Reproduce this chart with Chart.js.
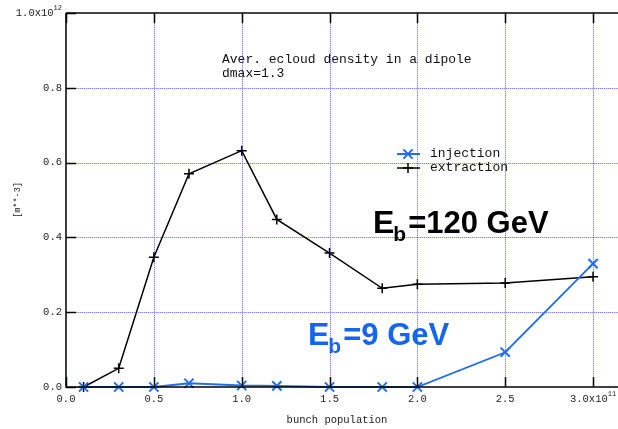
<!DOCTYPE html>
<html>
<head>
<meta charset="utf-8">
<script src="https://cdn.jsdelivr.net/npm/chart.js@4/dist/chart.umd.min.js"></script>
<style>
  html, body { margin: 0; padding: 0; background: #fff; }
  #wrap { width: 618px; height: 429px; }
</style>
</head>
<body>
<div id="wrap"><canvas id="c" width="618" height="429"></canvas></div>
<script>
// Bunch population (units of 1e11) and average e-cloud density (units of 1e12 m^-3)
const bunchPopulation = [0.1, 0.3, 0.5, 0.7, 1.0, 1.2, 1.5, 1.8, 2.0, 2.5, 3.0];
const injection       = [0.0, 0.0, 0.0, 0.010, 0.004, 0.003, 0.0, 0.0, 0.0, 0.093, 0.330];
const extraction      = [0.0, 0.050, 0.347, 0.570, 0.632, 0.448, 0.358, 0.264, 0.275, 0.278, 0.295];

const xTickValues = [0.0, 0.5, 1.0, 1.5, 2.0, 2.5, 3.0];
const xTickLabels = ['0.0', '0.5', '1.0', '1.5', '2.0', '2.5', '3.0x10'];
const xExponent = '11';
const yTickValues = [0.0, 0.2, 0.4, 0.6, 0.8, 1.0];
const yTickLabels = ['0.0', '0.2', '0.4', '0.6', '0.8', '1.0x10'];
const yExponent = '12';

const seriesNames = ['injection', 'extraction'];
const titleLines = ['Aver. ecloud density in a dipole', 'dmax=1.3'];
const xTitle = 'bunch population';
const yTitle = '[m**-3]';

const BLUE = '#1f6ef0';
const BLUE_TEXT = '#1466ec';
const GRID = '#7c80ff';
const GRID_PALE = '#d6d8ff';
const MONO = '"Liberation Mono", "DejaVu Sans Mono", monospace';
const SANS = '"Liberation Sans", Arial, sans-serif';

const toPoints = ys => bunchPopulation.map((x, i) => ({ x: x, y: ys[i] }));

// Dotted blue grid under the data
const dottedGrid = {
  id: 'dottedGrid',
  beforeDatasetsDraw(chart) {
    const ctx = chart.ctx;
    const area = chart.chartArea;
    const xs = chart.scales.x, ys = chart.scales.y;
    const path = () => {
      ctx.beginPath();
      xTickValues.forEach(v => {
        if (v === 0) return;
        const px = Math.round(xs.getPixelForValue(v)) + 0.5;
        ctx.moveTo(px, area.top); ctx.lineTo(px, area.bottom);
      });
      yTickValues.forEach(v => {
        if (v === 0) return;
        const py = Math.round(ys.getPixelForValue(v)) + 0.5;
        ctx.moveTo(area.left, py); ctx.lineTo(area.right, py);
      });
    };
    ctx.save();
    ctx.lineWidth = 1;
    ctx.strokeStyle = GRID_PALE;
    path();
    ctx.stroke();
    ctx.strokeStyle = GRID;
    ctx.setLineDash([1, 1]);
    path();
    ctx.stroke();
    ctx.restore();
  }
};

// Draws inward tick marks, tick labels with exponents, frame lines,
// annotation texts and the legend.
const decorations = {
  id: 'decorations',
  afterDraw(chart) {
    const ctx = chart.ctx;
    const area = chart.chartArea;
    const xs = chart.scales.x, ys = chart.scales.y;
    ctx.save();

    // frame: top, left, bottom
    ctx.strokeStyle = '#444';
    ctx.lineWidth = 2;
    ctx.beginPath();
    ctx.moveTo(area.left, area.top);
    ctx.lineTo(area.right, area.top);
    ctx.stroke();
    ctx.strokeStyle = '#000';
    ctx.lineWidth = 1.5;
    ctx.beginPath();
    ctx.moveTo(area.left, area.top);
    ctx.lineTo(area.left, area.bottom);
    ctx.lineTo(area.right, area.bottom);
    ctx.stroke();

    // inward tick marks
    ctx.beginPath();
    xTickValues.forEach(v => {
      const px = Math.round(xs.getPixelForValue(v)) + 0.5;
      ctx.moveTo(px, area.bottom); ctx.lineTo(px, area.bottom - 10);
      ctx.moveTo(px, area.top); ctx.lineTo(px, area.top + 10);
    });
    yTickValues.forEach(v => {
      const py = Math.round(ys.getPixelForValue(v)) + 0.5;
      ctx.moveTo(area.left, py); ctx.lineTo(area.left + 10, py);
    });
    ctx.stroke();

    // tick labels
    ctx.fillStyle = '#222';
    const tickFont = '10.5px ' + MONO;
    const supFont = '7px ' + MONO;
    ctx.textBaseline = 'middle';
    yTickValues.forEach((v, i) => {
      const py = ys.getPixelForValue(v);
      const last = i === yTickValues.length - 1;
      ctx.font = supFont;
      const supW = last ? ctx.measureText(yExponent).width : 0;
      const right = area.left - 4 - supW;
      ctx.font = tickFont;
      ctx.textAlign = 'right';
      ctx.fillText(yTickLabels[i], right, py);
      if (last) {
        ctx.font = supFont;
        ctx.textAlign = 'left';
        ctx.fillText(yExponent, right, py - 5);
      }
    });
    xTickValues.forEach((v, i) => {
      const px = xs.getPixelForValue(v);
      const last = i === xTickValues.length - 1;
      ctx.font = tickFont;
      const mainW = ctx.measureText(xTickLabels[i]).width;
      ctx.font = supFont;
      const supW = last ? ctx.measureText(xExponent).width : 0;
      const start = px - (mainW + supW) / 2;
      ctx.font = tickFont;
      ctx.textAlign = 'left';
      ctx.fillText(xTickLabels[i], start, area.bottom + 12);
      if (last) {
        ctx.font = supFont;
        ctx.fillText(xExponent, start + mainW, area.bottom + 7);
      }
    });

    // axis titles
    ctx.font = '10.5px ' + MONO;
    ctx.textAlign = 'center';
    ctx.fillText(xTitle, 337, 420);
    ctx.save();
    ctx.translate(18, (area.top + area.bottom) / 2);
    ctx.rotate(-Math.PI / 2);
    ctx.font = '8.5px ' + MONO;
    ctx.fillText(yTitle, 0, 0);
    ctx.restore();

    // plot title
    ctx.font = '13px ' + MONO;
    ctx.textAlign = 'left';
    ctx.fillStyle = '#111';
    ctx.fillText(titleLines[0], 222, 60);
    ctx.fillText(titleLines[1], 222, 74);

    // legend
    const legendRows = [
      { y: 154, color: BLUE, style: 'crossRot', r: 6.5, w: 2 },
      { y: 168, color: '#000', style: 'cross', r: 5, w: 1.5 }
    ];
    legendRows.forEach((row, i) => {
      ctx.strokeStyle = row.color;
      ctx.lineWidth = row.w;
      ctx.beginPath();
      ctx.moveTo(397, row.y); ctx.lineTo(420, row.y);
      ctx.stroke();
      Chart.helpers.drawPoint(ctx, {
        pointStyle: row.style, radius: row.r, borderWidth: row.w
      }, 408, row.y);
      ctx.fillStyle = '#111';
      ctx.font = '13px ' + MONO;
      ctx.textBaseline = 'middle';
      ctx.fillText(seriesNames[i], 430, row.y);
    });

    // energy annotations
    const energyLabel = (x, baseline, color, value) => {
      ctx.fillStyle = color;
      ctx.textBaseline = 'alphabetic';
      ctx.textAlign = 'left';
      ctx.font = 'bold 32px ' + SANS;
      ctx.fillText('E', x, baseline);
      let cx = x + ctx.measureText('E').width - 1;
      ctx.font = 'bold 21px ' + SANS;
      ctx.fillText('b', cx, baseline + 8);
      cx += ctx.measureText('b').width + 2;
      ctx.font = 'bold 31px ' + SANS;
      ctx.fillText('=' + value + ' GeV', cx, baseline);
    };
    energyLabel(373, 233, '#000', '120');
    energyLabel(308, 345, BLUE_TEXT, '9');

    ctx.restore();
  }
};

new Chart(document.getElementById('c'), {
  type: 'scatter',
  data: {
    datasets: [
      {
        label: seriesNames[0],
        data: toPoints(injection),
        showLine: true,
        borderColor: BLUE,
        backgroundColor: BLUE,
        borderWidth: 1.8,
        pointStyle: 'crossRot',
        pointRadius: 6.5,
        pointBorderWidth: 2,
        pointBorderColor: BLUE,
        clip: false,
        order: 1
      },
      {
        label: seriesNames[1],
        data: toPoints(extraction),
        showLine: true,
        borderColor: '#000',
        backgroundColor: '#000',
        borderWidth: 1.5,
        pointStyle: 'cross',
        pointRadius: 5,
        pointBorderWidth: 1.5,
        pointBorderColor: '#000',
        clip: false,
        order: 2
      }
    ]
  },
  options: {
    responsive: false,
    animation: false,
    events: [],
    layout: { autoPadding: false, padding: { top: 13, right: 0, left: 0, bottom: 0 } },
    plugins: { legend: { display: false }, title: { display: false }, tooltip: { enabled: false } },
    scales: {
      x: {
        type: 'linear',
        min: 0,
        max: 3.142,
        afterBuildTicks: s => { s.ticks = xTickValues.map(v => ({ value: v })); },
        afterFit: s => { s.height = 42; },
        ticks: { display: false },
        grid: { display: false, drawTicks: false },
        border: { display: false }
      },
      y: {
        type: 'linear',
        min: 0,
        max: 1.0,
        afterBuildTicks: s => { s.ticks = yTickValues.map(v => ({ value: v })); },
        afterFit: s => { s.width = 66; },
        ticks: { display: false },
        grid: { display: false, drawTicks: false },
        border: { display: false }
      }
    }
  },
  plugins: [dottedGrid, decorations]
});
</script>
</body>
</html>
